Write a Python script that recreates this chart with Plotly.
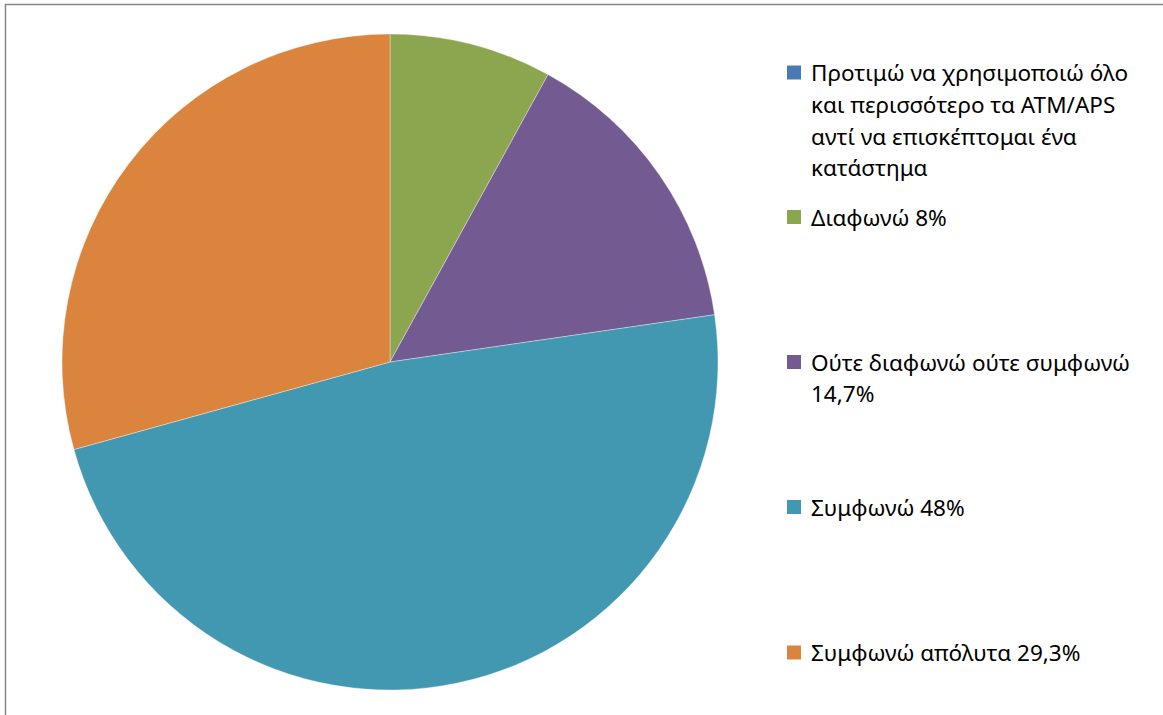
import plotly.graph_objects as go

# Survey responses (share of respondents)
labels = [
    "Προτιμώ να χρησιμοποιώ όλο και περισσότερο τα ATM/APS αντί να επισκέπτομαι ένα κατάστημα",
    "Διαφωνώ 8%",
    "Ούτε διαφωνώ ούτε συμφωνώ 14,7%",
    "Συμφωνώ 48%",
    "Συμφωνώ απόλυτα 29,3%",
]
values = [0, 8, 14.7, 48, 29.3]
colors = ["#4a7ab5", "#8ca64f", "#735a91", "#4298b0", "#db843e"]

# Legend text broken into the lines shown next to each swatch
legend_lines = [
    ["Προτιμώ να χρησιμοποιώ όλο", "και περισσότερο τα ATM/APS",
     "αντί να επισκέπτομαι ένα", "κατάστημα"],
    ["Διαφωνώ 8%"],
    ["Ούτε διαφωνώ ούτε συμφωνώ", "14,7%"],
    ["Συμφωνώ 48%"],
    ["Συμφωνώ απόλυτα 29,3%"],
]

W, H = 1163, 715
FONT = "Noto Sans"

fig = go.Figure(
    go.Pie(
        labels=labels,
        values=values,
        sort=False,
        direction="clockwise",
        rotation=0,
        marker=dict(colors=colors, line=dict(color="rgba(255,255,255,0.6)", width=0.6)),
        textinfo="none",
        showlegend=False,
        domain=dict(x=[62 / W, 718 / W], y=[1 - 690 / H, 1 - 34 / H]),
    )
)

# Custom legend: swatch + text lines, laid out in pixel positions
entry_top = [72.5, 217, 362, 507, 652.5]
line_gap = 31.8
sw = 14
sx0 = 787
tx = 809
shapes = []
annotations = []
for lines, col, y0 in zip(legend_lines, colors, entry_top):
    shapes.append(dict(
        type="rect", xref="paper", yref="paper",
        x0=sx0 / W, x1=(sx0 + sw) / W,
        y0=1 - (y0 + sw / 2) / H, y1=1 - (y0 - sw / 2) / H,
        fillcolor=col, line=dict(width=0),
    ))
    for i, t in enumerate(lines):
        annotations.append(dict(
            xref="paper", yref="paper",
            x=tx / W, y=1 - (y0 + i * line_gap) / H,
            xanchor="left", yanchor="middle",
            text=t, showarrow=False,
            font=dict(family=FONT, size=22.5, color="#000000"),
        ))

# Chart frame
shapes.append(dict(
    type="rect", xref="paper", yref="paper",
    x0=5.5 / W, x1=1.02, y0=-0.02, y1=1 - 4.5 / H,
    line=dict(color="#878787", width=1.5), fillcolor="rgba(0,0,0,0)",
))

fig.update_layout(
    width=W, height=H,
    margin=dict(l=0, r=0, t=0, b=0),
    paper_bgcolor="white",
    plot_bgcolor="white",
    shapes=shapes,
    annotations=annotations,
    font=dict(family=FONT),
)

fig.write_html("out.html")
